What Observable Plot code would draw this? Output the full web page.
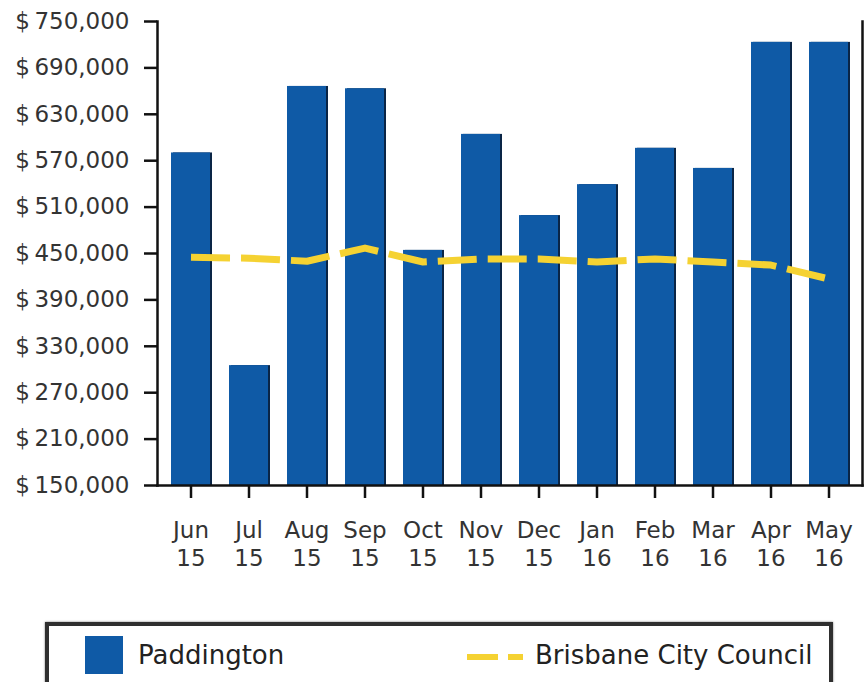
<!DOCTYPE html>
<html><head><meta charset="utf-8">
<script src="https://cdn.jsdelivr.net/npm/d3@7"></script>
<script src="https://cdn.jsdelivr.net/npm/@observablehq/plot@0.6"></script>
<style>
body{margin:0;background:#fff;font-family:"DejaVu Sans",sans-serif;}
#wrap{position:relative;width:864px;height:682px;overflow:hidden;background:#fff}
#legend{position:absolute;left:45px;top:622px;width:780px;height:70px;border:4px solid #2f2f2f;box-shadow:0 0 2px #777;background:#fff;}
#legend .sw{position:absolute;left:36px;top:10px;width:38px;height:38px;background:#0f5aa6;}
#legend .t1{position:absolute;left:89px;top:11px;font-size:26px;color:#222;line-height:36px;white-space:nowrap}
#legend svg{position:absolute;left:418px;top:26px}
#legend .t2{position:absolute;left:486px;top:11px;font-size:26px;color:#222;line-height:36px;white-space:nowrap}
</style></head><body>
<div id="wrap"><div id="chart"></div>
<div id="legend"><div class="sw"></div><div class="t1">Paddington</div>
<svg width="60" height="10"><line x1="0" y1="5" x2="56" y2="5" stroke="#f5d232" stroke-width="6" stroke-dasharray="31,10"/></svg>
<div class="t2">Brisbane City Council</div></div></div>
<script>
const months = ["Jun 15","Jul 15","Aug 15","Sep 15","Oct 15","Nov 15","Dec 15","Jan 16","Feb 16","Mar 16","Apr 16","May 16"];
const paddington = [580000, 305000, 666000, 663000, 454000, 604000, 499000, 539000, 586000, 560000, 723000, 723000];
const brisbane = [445000, 444000, 440000, 457000, 439000, 443000, 443000, 439000, 443000, 439000, 435000, 417000];
const yTicks = [150000, 210000, 270000, 330000, 390000, 450000, 510000, 570000, 630000, 690000, 750000];

const barData = months.map((m, i) => ({month: m, value: paddington[i]}));
const lineData = months.map((m, i) => ({month: m, value: brisbane[i]}));
const base = yTicks[0];
const fmt = d3.format(",");

const chart = Plot.plot({
  width: 864,
  height: 600,
  marginLeft: 157,
  marginRight: 2,
  marginTop: 21,
  marginBottom: 115,
  style: {fontFamily: "DejaVu Sans, sans-serif", fontSize: "23px", color: "#222", background: "#fff"},
  x: {type: "band", domain: months, paddingInner: 0.32, paddingOuter: 0.16},
  y: {domain: [yTicks[0], yTicks[yTicks.length - 1]]},
  marks: [
    Plot.barY(barData, {x: "month", y1: () => base, y2: "value", fill: "#0a2546", dx: 2}),
    Plot.barY(barData, {x: "month", y1: () => base, y2: "value", fill: "#0f5aa6"}),
    Plot.line(lineData, {x: "month", y: "value", stroke: "#f5d232", strokeWidth: 7, strokeDasharray: "39,11", strokeLinecap: "butt", curve: "linear"}),
    Plot.frame({anchor: "left", stroke: "#111", strokeWidth: 2.5}),
    Plot.frame({anchor: "bottom", stroke: "#111", strokeWidth: 2.5}),
    Plot.frame({anchor: "right", stroke: "#111", strokeWidth: 2.5}),
    Plot.axisY({ticks: yTicks, tickFormat: d => "$\u2009" + fmt(d), tickSize: 13, tickPadding: 15, label: null, stroke: "#111", strokeWidth: 2.5, fill: "#333"}),
    Plot.axisX({tickFormat: d => d.replace(" ", "\n"), tickSize: 13, tickPadding: 20, lineHeight: 1.2, label: null, stroke: "#111", strokeWidth: 2.5, fill: "#333"})
  ]
});
document.getElementById("chart").appendChild(chart);
</script>
</body></html>
